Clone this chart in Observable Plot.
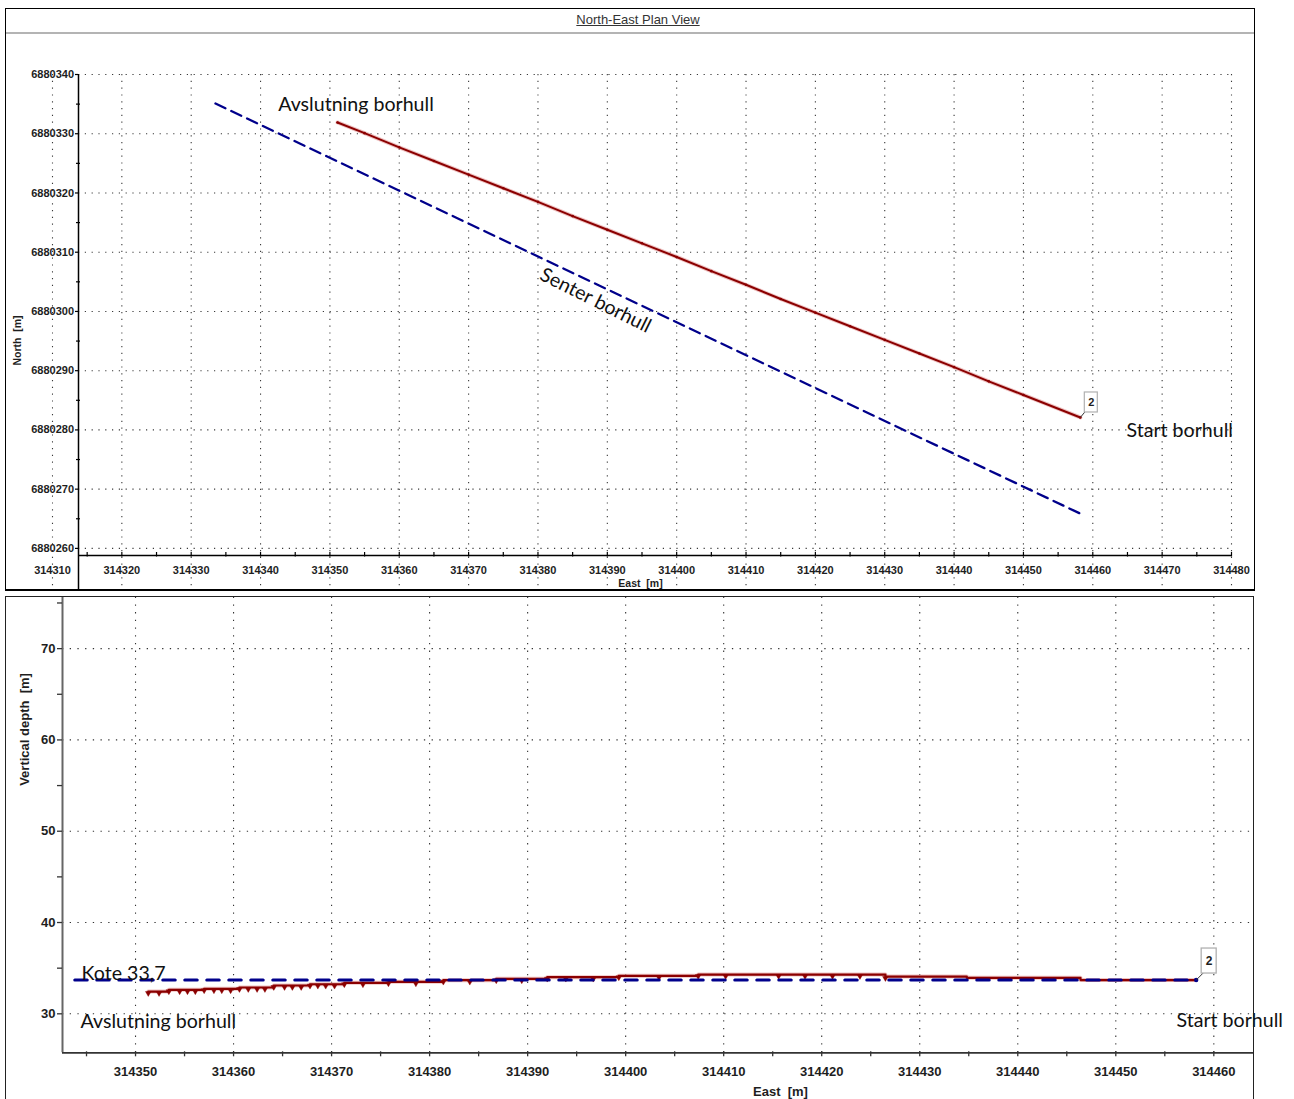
<!DOCTYPE html>
<html><head><meta charset="utf-8">
<script src="https://cdn.jsdelivr.net/npm/d3@7"></script>
<script src="https://cdn.jsdelivr.net/npm/@observablehq/plot@0.6"></script>
<style>
html,body{margin:0;padding:0;background:#fff;overflow:hidden;}
#page{position:relative;width:1294px;height:1099px;overflow:hidden;background:#fff;}
.panel{position:absolute;box-sizing:border-box;pointer-events:none;z-index:5;}
#topPanel{left:5px;top:8px;width:1250px;height:583px;border:1px solid #000;border-left-width:1.5px;border-right-width:1.5px;border-bottom:2px solid #000;}
#titleRule{position:absolute;left:5px;top:32px;width:1250px;height:2px;background:#b4b4b4;z-index:4;}
#title{position:absolute;left:0;width:1276px;top:12px;text-align:center;font:13px "Liberation Sans",Arial,sans-serif;color:#333;text-decoration:underline;z-index:4;}
#bottomPanel{left:5px;top:596px;width:1249px;height:520px;border:1px solid #222;border-right-width:1.5px;}
#topChart{position:absolute;left:0;top:0;}
#bottomChart{position:absolute;left:0;top:590px;}
</style>
</head>
<body>
<div id="page">
  <div id="topChart"></div>
  <div id="bottomChart"></div>
  <div id="titleRule"></div>
  <div id="title">North-East Plan View</div>
  <div class="panel" id="topPanel"></div>
  <div class="panel" id="bottomPanel"></div>
</div>
<script>
// ---------- DATA: North-East plan view ----------
const topEastTicks = [314310, 314320, 314330, 314340, 314350, 314360, 314370, 314380, 314390, 314400, 314410, 314420, 314430, 314440, 314450, 314460, 314470, 314480];
const topEastMinor = [314315, 314325, 314335, 314345, 314355, 314365, 314375, 314385, 314395, 314405, 314415, 314425, 314435, 314445, 314455, 314465, 314475];
const topNorthTicks = [6880260, 6880270, 6880280, 6880290, 6880300, 6880310, 6880320, 6880330, 6880340];
const topNorthMinor = [6880265, 6880275, 6880285, 6880295, 6880305, 6880315, 6880325, 6880335];

// drilled hole (red) in plan
const drillEast  = [314351.1, 314355, 314360, 314365, 314370, 314375, 314380, 314385, 314390, 314395, 314400, 314405, 314410, 314415, 314420, 314425, 314430, 314435, 314440, 314445, 314450, 314458.2];
const drillNorth = [6880331.9, 6880330.1, 6880327.7, 6880325.4, 6880323.1, 6880320.8, 6880318.5, 6880316.1, 6880313.8, 6880311.5, 6880309.2, 6880306.8, 6880304.5, 6880302.1, 6880299.8, 6880297.5, 6880295.2, 6880292.9, 6880290.6, 6880288.2, 6880285.9, 6880282.1];
// planned centre line (blue dashed) in plan
const centerEast  = [314333.5, 314458.5];
const centerNorth = [6880335.1, 6880265.7];

// ---------- DATA: vertical section ----------
const botEastTicks = [314350, 314360, 314370, 314380, 314390, 314400, 314410, 314420, 314430, 314440, 314450, 314460];
const botEastMinor = [314345, 314355, 314365, 314375, 314385, 314395, 314405, 314415, 314425, 314435, 314445, 314455];
const botDepthTicks = [30, 40, 50, 60, 70];
const botDepthMinor = [35, 45, 55, 65, 75];

// survey stations (with markers)
const stationEast = [314351.3, 314352.4, 314353.4, 314354.5, 314355.3, 314356.1, 314357.0, 314358.0, 314358.8, 314359.7,
  314360.6, 314361.5, 314362.4, 314363.2, 314364.1, 314365.2, 314366.0, 314366.9, 314367.8, 314368.6,
  314369.4, 314370.3, 314371.3, 314373.2, 314375.8, 314378.6, 314381.4, 314384.1, 314386.8, 314389.4,
  314392.0, 314393.9, 314396.7, 314399.3, 314403.4, 314407.4, 314410.2, 314415.6, 314418.3, 314421.1,
  314423.9, 314426.5];
const stationElev = [32.44, 32.44, 32.63, 32.63, 32.63, 32.63, 32.74, 32.74, 32.74, 32.74,
  32.88, 32.88, 32.88, 32.88, 33.10, 33.10, 33.10, 33.10, 33.24, 33.24,
  33.24, 33.24, 33.40, 33.40, 33.50, 33.50, 33.68, 33.68, 33.83, 33.83,
  34.01, 34.01, 34.01, 34.16, 34.16, 34.30, 34.30, 34.30, 34.30, 34.30,
  34.30, 34.08];
// remaining track towards the collar (no visible markers)
const tailEast = [314430.7, 314434.8, 314440.6, 314446.4, 314452.3, 314458.2];
const tailElev = [34.08, 33.94, 33.94, 33.70, 33.70, 33.70];
// planned level "Kote 33,7"
const koteEast = [314343.8, 314458.2];
const koteElev = [33.7, 33.7];

// ---------- helpers ----------
const F_AX = '"Liberation Sans", Arial, sans-serif';
const F_ANN = 'Lato, "Open Sans", sans-serif';
const ANN_SIZE = 19.6;
const RED = "#8b0000", BLUE = "#00008b";

// ================= TOP CHART =================
const T = {w: 1294, h: 590, ml: 78, mr: 63, mt: 74, mb: 35};
const tX = [314313.75, 314480], tY = [6880258.8, 6880340];
const tXu = (tX[1] - tX[0]) / (T.w - T.ml - T.mr);
const tYu = (tY[1] - tY[0]) / (T.h - T.mt - T.mb);
const tYbottom = tY[0] - T.mb * tYu;
const dottedT = {stroke: "#3a3a3a", strokeWidth: 1.1, strokeDasharray: "1.2,5.6"};

const drill = drillEast.map((e, i) => ({e, n: drillNorth[i]}));
const center = centerEast.map((e, i) => ({e, n: centerNorth[i]}));
const dEnd = drill[drill.length - 1];

const topNotesMid = [
  {t: "Avslutning borhull", e: 314353.76, n: 6880334.94, r: 0},
  {t: "Senter borhull", e: 314388.3, n: 6880301.85, r: 26.5}
];
const topNotesStart = [
  {t: "Start borhull", e: 314464.86, n: 6880279.9}
];

const axTxtT = {fontFamily: F_AX, fontWeight: "bold", fontSize: 11, fill: "#1e1e1e"};

const topPlot = Plot.plot({
  width: T.w, height: T.h,
  marginLeft: T.ml, marginRight: T.mr, marginTop: T.mt, marginBottom: T.mb,
  x: {domain: tX, axis: null},
  y: {domain: tY, axis: null},
  style: {background: "transparent"},
  marks: [
    Plot.ruleX(topEastTicks, {x: d => d, y1: tY[1], y2: tYbottom, ...dottedT}),
    Plot.ruleY(topNorthTicks, {y: d => d, x1: tX[0], x2: tX[1], ...dottedT}),
    Plot.ruleX([tX[0]], {x: d => d, y1: tY[1], y2: tYbottom, stroke: "#000", strokeWidth: 1.5}),
    Plot.ruleY([tY[0]], {y: d => d, x1: tX[0], x2: tX[1], stroke: "#000", strokeWidth: 1.5}),
    Plot.ruleX(topEastTicks.concat(topEastMinor).filter(v => v > tX[0]),
      {x: d => d, y1: tY[0] - 1.5 * tYu, y2: tY[0] + 3 * tYu, stroke: "#000", strokeWidth: 1.2}),
    Plot.ruleY(topNorthTicks, {y: d => d, x1: tX[0] - 3 * tXu, x2: tX[0], stroke: "#000", strokeWidth: 1.2}),
    Plot.ruleY(topNorthMinor, {y: d => d, x1: tX[0] - 2 * tXu, x2: tX[0] + 2 * tXu, stroke: "#000", strokeWidth: 1.2}),
    Plot.text(topEastTicks, {x: d => d, y: tY[0], dy: 15, text: d => String(d), ...axTxtT}),
    Plot.text(topNorthTicks, {x: tX[0], y: d => d, dx: -4.5, textAnchor: "end", text: d => String(d), ...axTxtT}),
    Plot.text(["North  [m]"], {x: tX[0], y: tY[1] - (340 - T.mt) * tYu, dx: -61, rotate: -90, text: d => d, ...axTxtT, fontSize: 10.5}),
    Plot.text(["East  [m]"], {x: tX[0] + (640 - T.ml) * tXu, y: tY[0], dy: 28, text: d => d, ...axTxtT, fontSize: 10.5}),
    // planned centre line
    Plot.line(center, {x: "e", y: "n", stroke: BLUE, strokeWidth: 2.3, strokeDasharray: "11,6.5"}),
    // drilled hole
    Plot.line(drill, {x: "e", y: "n", stroke: "#e7a8a8", strokeWidth: 4, strokeOpacity: 0.7}),
    Plot.line(drill, {x: "e", y: "n", stroke: RED, strokeWidth: 2}),
    Plot.dot(drill, {x: "e", y: "n", r: 1.3, fill: RED}),
    // label box "2"
    Plot.link([dEnd], {x1: "e", y1: "n", x2: d => d.e + 5 * tXu, y2: d => d.n + 6 * tYu, stroke: "#333", strokeWidth: 1}),
    Plot.rect([dEnd], {x1: "e", x2: "e", y1: "n", y2: "n", insetLeft: -6.5, insetRight: -6.5, insetTop: -10, insetBottom: -10, dx: 11, dy: -15, fill: "#fff", stroke: "#b0b0b0", strokeWidth: 1.2}),
    Plot.text([dEnd], {x: "e", y: "n", dx: 11, dy: -15, text: () => "2", ...axTxtT}),
    // annotations
    Plot.text(topNotesMid, {x: "e", y: "n", text: "t", textAnchor: "middle", rotate: "r", fontFamily: F_ANN, fontSize: ANN_SIZE, fill: "#111"}),
    Plot.text(topNotesStart, {x: "e", y: "n", text: "t", textAnchor: "start", fontFamily: F_ANN, fontSize: ANN_SIZE, fill: "#111"})
  ]
});
document.getElementById("topChart").appendChild(topPlot);

// ================= BOTTOM CHART =================
const B = {w: 1294, h: 509, ml: 62, mr: 40, mt: 7, mb: 46.7};
const bX = [314342.55, 314464.15], bY = [25.73, 75.6];
const bXu = (bX[1] - bX[0]) / (B.w - B.ml - B.mr);
const bYu = (bY[1] - bY[0]) / (B.h - B.mt - B.mb);
const dottedB = {stroke: "#333", strokeWidth: 1.1, strokeDasharray: "1.3,6.4"};

const stations = stationEast.map((e, i) => ({e, v: stationElev[i]}));
const track = stations.concat(tailEast.map((e, i) => ({e, v: tailElev[i]})));
const kote = koteEast.map((e, i) => ({e, v: koteElev[i]}));
const tEnd = track[track.length - 1];

const botNotes = [
  {t: "Kote 33,7", e: 314344.49, v: 34.42},
  {t: "Avslutning borhull", e: 314344.39, v: 29.10},
  {t: "Start borhull", e: 314456.19, v: 29.27}
];

const axTxtB = {fontFamily: F_AX, fontWeight: "bold", fontSize: 13, fill: "#1e1e1e"};

const botPlot = Plot.plot({
  width: B.w, height: B.h,
  marginLeft: B.ml, marginRight: B.mr, marginTop: B.mt, marginBottom: B.mb,
  x: {domain: bX, axis: null},
  y: {domain: bY, axis: null},
  style: {background: "transparent", overflow: "visible"},
  marks: [
    Plot.ruleX(botEastTicks, {x: d => d, y1: bY[0], y2: bY[1], ...dottedB}),
    Plot.ruleY(botDepthTicks, {y: d => d, x1: bX[0], x2: bX[1] - 4 * bXu, ...dottedB}),
    Plot.ruleX([bX[0]], {x: d => d, y1: bY[0], y2: bY[1], stroke: "#666", strokeWidth: 2}),
    Plot.ruleY([bY[0]], {y: d => d, x1: bX[0], x2: bX[1], stroke: "#333", strokeWidth: 1.8}),
    Plot.ruleX(botEastTicks.concat(botEastMinor), {x: d => d, y1: bY[0] + 1 * bYu, y2: bY[0] - 4 * bYu, stroke: "#333", strokeWidth: 1.3}),
    Plot.ruleY(botDepthTicks.concat(botDepthMinor), {y: d => d, x1: bX[0] - 5 * bXu, x2: bX[0], stroke: "#333", strokeWidth: 1.3}),
    Plot.text(botEastTicks, {x: d => d, y: bY[0], dy: 19.5, text: d => String(d), ...axTxtB}),
    Plot.text(botDepthTicks, {x: bX[0], y: d => d, dx: -7, textAnchor: "end", text: d => String(d), ...axTxtB}),
    Plot.text(["Vertical depth  [m]"], {x: bX[0], y: bY[1] - (139 - B.mt) * bYu, dx: -38, rotate: -90, text: d => d, ...axTxtB}),
    Plot.text(["East  [m]"], {x: bX[0] + (780 - B.ml) * bXu, y: bY[0], dy: 39.5, text: d => d, ...axTxtB}),
    // drilled hole
    Plot.line(track, {x: "e", y: "v", curve: "step-after", stroke: "#e7a8a8", strokeWidth: 4, strokeOpacity: 0.7}),
    Plot.line(track, {x: "e", y: "v", curve: "step-after", stroke: RED, strokeWidth: 2.2}),
    Plot.dot(stations, {x: "e", y: "v", symbol: "triangle", rotate: 180, r: 2.1, dy: 1.6, fill: RED, stroke: RED, strokeWidth: 0.4}),
    // planned level
    Plot.line(kote, {x: "e", y: "v", stroke: BLUE, strokeWidth: 3, strokeDasharray: "12.5,9.5"}),
    Plot.dot([tEnd], {x: "e", y: "v", r: 2.2, fill: BLUE}),
    // label box "2"
    Plot.link([tEnd], {x1: "e", y1: "v", x2: d => d.e + 7 * bXu, y2: d => d.v + 7 * bYu, stroke: "#333", strokeWidth: 1}),
    Plot.rect([tEnd], {x1: "e", x2: "e", y1: "v", y2: "v", insetLeft: -7.5, insetRight: -7.5, insetTop: -12.5, insetBottom: -12.5, dx: 13, dy: -19, fill: "#fff", stroke: "#b0b0b0", strokeWidth: 1.3}),
    Plot.text([tEnd], {x: "e", y: "v", dx: 13, dy: -19, text: () => "2", ...axTxtB, fontSize: 12}),
    // annotations
    Plot.text(botNotes, {x: "e", y: "v", text: "t", textAnchor: "start", fontFamily: F_ANN, fontSize: ANN_SIZE, fill: "#111"})
  ]
});
document.getElementById("bottomChart").appendChild(botPlot);
</script>
</body></html>
